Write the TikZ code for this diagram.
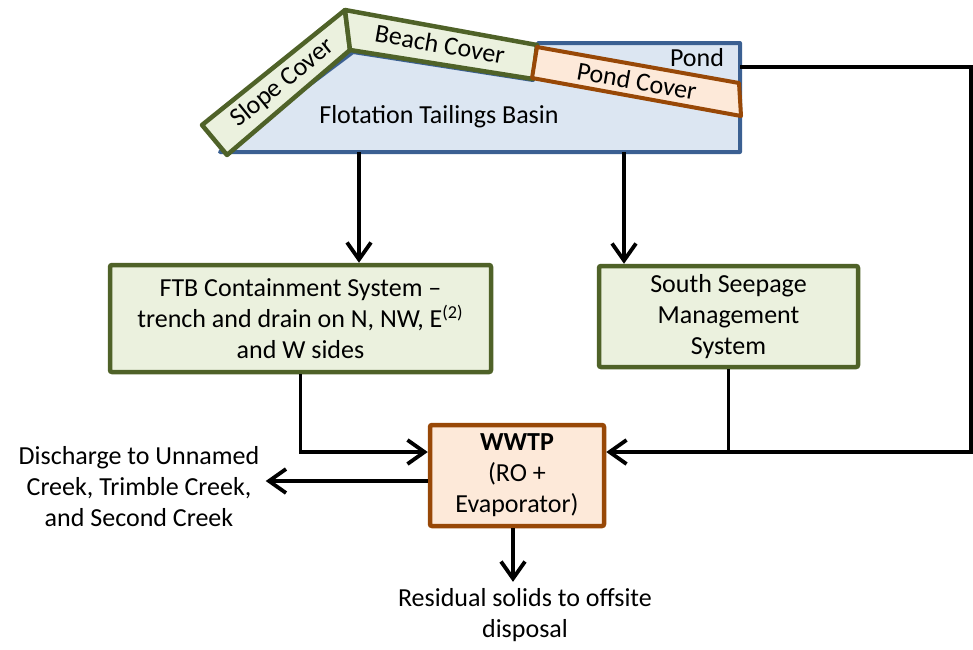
\documentclass[tikz,border=0pt]{standalone}
\usepackage{fontspec}
\setmainfont{Carlito}
\usepackage{tikz}
\usetikzlibrary{arrows.meta, calc, positioning}
\definecolor{covergreen}{HTML}{4F6228}
\definecolor{coverfill}{HTML}{EBF1DE}
\definecolor{basinblue}{HTML}{3B6092}
\definecolor{basinfill}{HTML}{DCE6F2}
\definecolor{plantbrown}{HTML}{984807}
\definecolor{plantfill}{HTML}{FDE9D9}

\begin{document}
\begin{tikzpicture}[x=0.5pt, y=-0.5pt, node distance=60pt,
  font=\fontsize{13}{15.5}\selectfont,
  pipe/.style={line width=1.9pt},
  flow/.style={pipe, -{Straight Barb[length=8.5pt, width=12pt, line width=1.9pt]}},
  greenbox/.style={draw=covergreen, fill=coverfill, line width=2.25pt, rectangle, rounded corners=1pt, align=center},
  plantbox/.style={draw=plantbrown, fill=plantfill, line width=2.25pt, rectangle, rounded corners=1pt, align=center},
  cover/.style={draw=covergreen, fill=coverfill, line width=2.25pt, line join=round},
  pondcover/.style={draw=plantbrown, fill=plantfill, line width=2pt, line join=round},
  tilted/.style={inner sep=0pt}]
\useasboundingbox (0,0) rectangle (973,649);

\draw[draw=basinblue, fill=basinfill, line width=2pt, line join=round]
  (220,152) -- (353,52) -- (533,80) -- (538,43) -- (740,43) -- (740,152) -- cycle;
\draw[cover] (202,125) -- (345,10) -- (350,50) -- (227,155) -- cycle;
\draw[cover] (345,10) -- (537,45) -- (533,79) -- (350,50) -- cycle;
\draw[pondcover] (537,47) -- (739,83) -- (741,116) -- (532,78) -- cycle;

\node (slope) at (283,83) [tilted, rotate=39] {Slope Cover};
\node (beach) at (440,44) [tilted, rotate=-10] {Beach Cover};
\node (pondc) at (637,81) [tilted, rotate=-10] {Pond Cover};
\node (pond) at (697,58) {Pond};
\node (basin) at (439,117) {Flotation Tailings Basin};

\coordinate (b1) at (359,152);
\coordinate (b2) at (624,152);
\coordinate (pondR) at (740,67);
\coordinate (edge) at (971,67);
\coordinate (j) at (971,452);

\node (FTB) at (300.5,318.5) [greenbox, minimum width=190.5pt, minimum height=53.5pt] {FTB Containment System –\\ trench and drain on N, NW, E\textsuperscript{(2)}\\ and W sides};
\node (SSM) at (728.5,316.5) [greenbox, minimum width=129.5pt, minimum height=50.5pt] {South Seepage\\ Management\\ System};
\node (WWTP) at (517,475.5) [plantbox, minimum width=87pt, minimum height=50.5pt] {\textbf{WWTP}\\ (RO +\\ Evaporator)};
\node (dis) at (139,487) [align=center, inner sep=0pt] {Discharge to Unnamed\\ Creek, Trimble Creek,\\ and Second Creek};
\node (res) [below of=WWTP, xshift=4pt, yshift=-10pt, align=center] {Residual solids to offsite\\ disposal};

\coordinate (dout) at ($(WWTP.west)+(0,5.5)$);
\coordinate (rout) at ($(WWTP.south)+(-4,0)$);

\draw[flow] (b1) -- (b1 |- FTB.north);
\draw[flow] (b2) -- (b2 |- SSM.north);
\draw[flow] (pondR) -- (edge) -- (j) -- (WWTP.east |- j);
\draw[pipe] (SSM.south) -- (SSM.south |- j);
\draw[flow] (FTB.south) -- (FTB.south |- j) -- (WWTP.west |- j);
\draw[flow, shorten >=3pt] (dout) -- (dout -| dis.east);
\draw[flow] (rout) -- (rout |- res.north);
\end{tikzpicture}
\end{document}
